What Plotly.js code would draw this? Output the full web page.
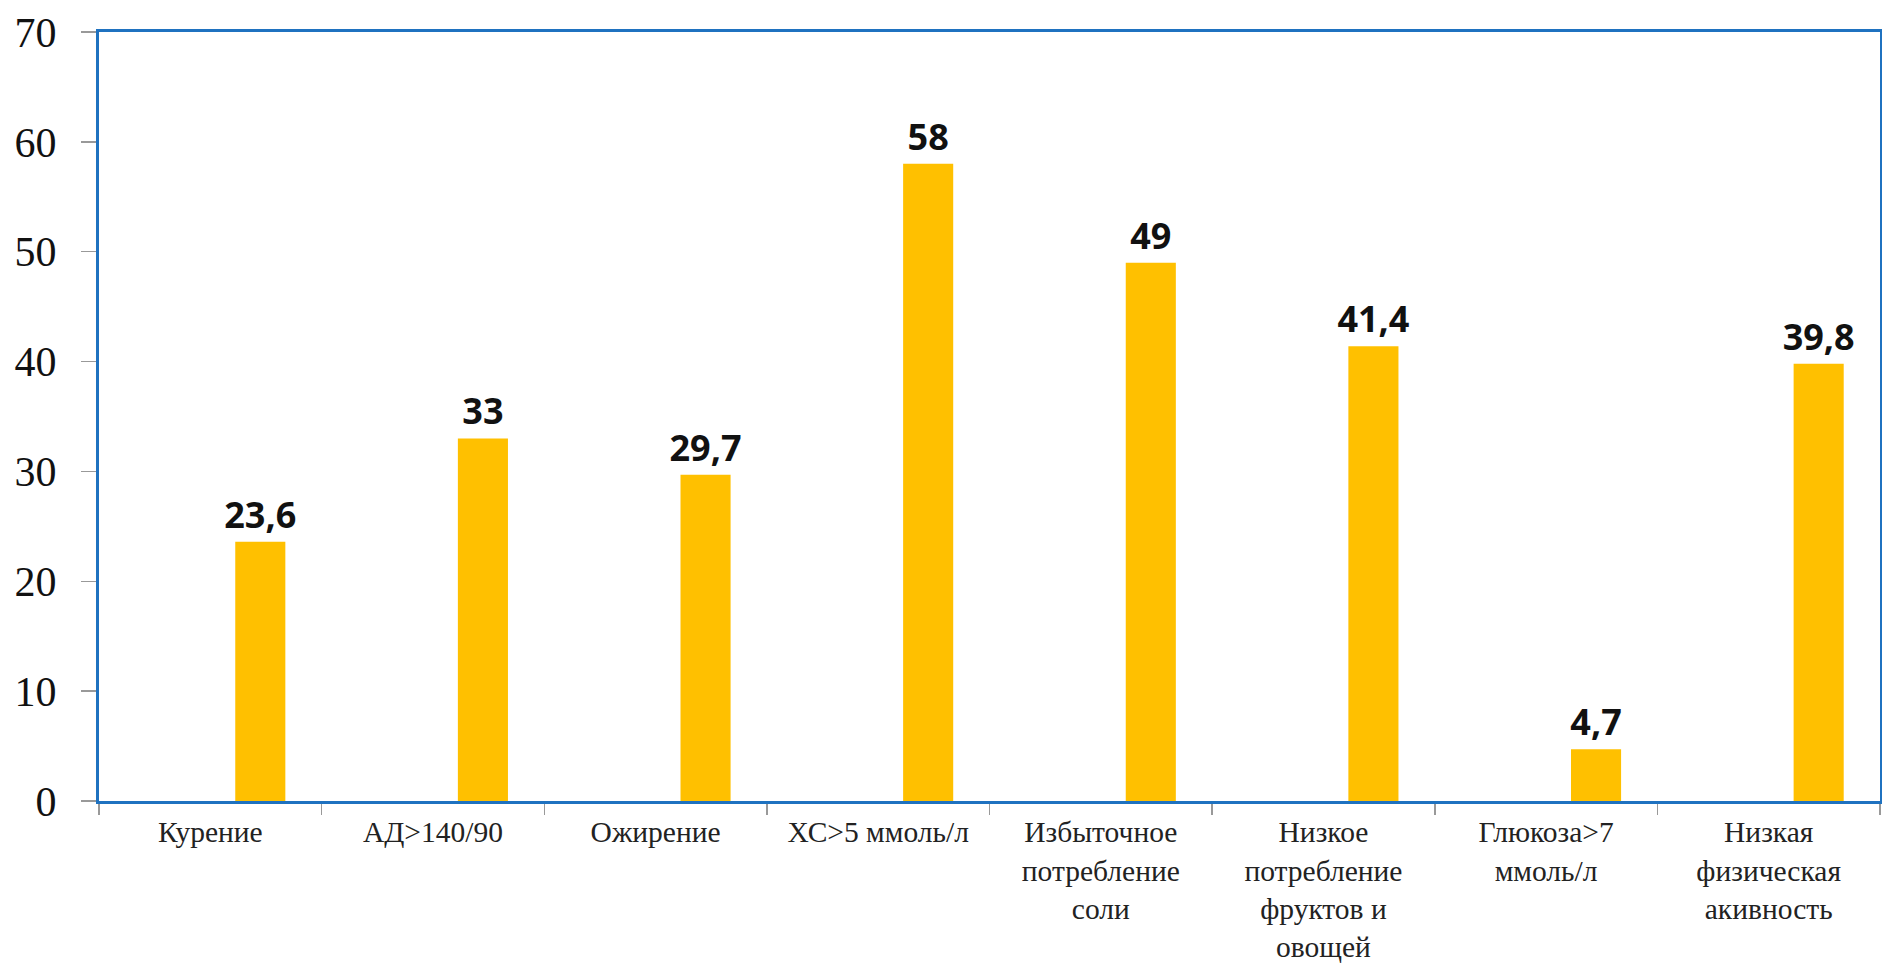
<!DOCTYPE html>
<html>
<head>
<meta charset="utf-8">
<script src="https://cdn.plot.ly/plotly-3.0.1.min.js"></script>
<style>
  html, body { margin: 0; padding: 0; background: #fff; }
  #chart { width: 1882px; height: 964px; }
</style>
</head>
<body>
<div id="chart"></div>
<script>
// Risk factor categories (axis labels, line breaks as drawn)
const categories = [
  'Курение',
  'АД>140/90',
  'Ожирение',
  'ХС>5 ммоль/л',
  'Избыточное<br>потребление<br>соли',
  'Низкое<br>потребление<br>фруктов и<br>овощей',
  'Глюкоза>7<br>ммоль/л',
  'Низкая<br>физическая<br>акивность'
];

// Prevalence, %
const values = [23.6, 33, 29.7, 58, 49, 41.4, 4.7, 39.8];

// Y axis ticks
const yTicks = [0, 10, 20, 30, 40, 50, 60, 70];

// Value labels with a decimal comma
const valueLabels = values.map(v => String(v).replace('.', ','));

const trace = {
  type: 'bar',
  x: categories,
  y: values,
  text: valueLabels,
  textposition: 'outside',
  texttemplate: '%{text}',
  constraintext: 'none',
  cliponaxis: false,
  textfont: { family: 'Open Sans, sans-serif', size: 36, color: '#111', weight: 700 },
  marker: { color: '#FFC000', line: { width: 0 } },
  width: 0.225,
  offset: 0.112,
  hoverinfo: 'x+y'
};

const layout = {
  width: 1882,
  height: 964,
  margin: { l: 99, r: 2, t: 32, b: 163 },
  paper_bgcolor: '#ffffff',
  plot_bgcolor: '#ffffff',
  showlegend: false,
  xaxis: {
    type: 'category',
    showline: true,
    mirror: true,
    linecolor: '#1F72C0',
    linewidth: 3,
    ticks: 'outside',
    tickson: 'boundaries',
    ticklen: 11,
    tickwidth: 1.5,
    tickcolor: '#999999',
    ticklabelstandoff: 3,
    showgrid: false,
    zeroline: false,
    tickangle: 0,
    tickfont: { family: 'Liberation Serif, Times New Roman, serif', size: 29.5, color: '#222' },
    fixedrange: true
  },
  yaxis: {
    range: [0, 70],
    tickvals: yTicks,
    ticktext: yTicks.map(String),
    showline: true,
    mirror: true,
    linecolor: '#1F72C0',
    linewidth: 3,
    ticks: 'outside',
    ticklen: 15,
    tickwidth: 1.5,
    tickcolor: '#999999',
    ticklabelstandoff: 16,
    showgrid: false,
    zeroline: false,
    tickfont: { family: 'Liberation Serif, Times New Roman, serif', size: 42, color: '#111' },
    fixedrange: true
  }
};

Plotly.newPlot('chart', [trace], layout, { displayModeBar: false, staticPlot: true });
</script>
</body>
</html>
